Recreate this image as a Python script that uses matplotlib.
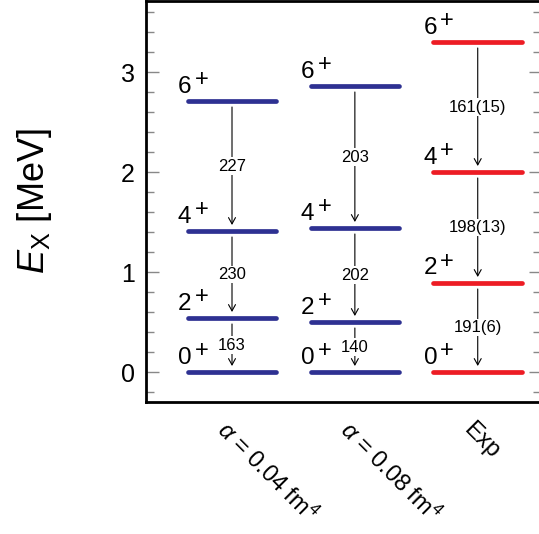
import matplotlib
matplotlib.use("Agg")
import matplotlib.pyplot as plt
from matplotlib.ticker import MultipleLocator

plt.rcParams['font.family'] = ['Liberation Sans', 'DejaVu Sans']
plt.rcParams['mathtext.fontset'] = 'custom'
plt.rcParams['mathtext.rm'] = 'Liberation Sans'
plt.rcParams['mathtext.it'] = 'Liberation Sans:italic'
plt.rcParams['mathtext.default'] = 'regular'

# level energies (MeV) for 0+, 2+, 4+, 6+
columns = [r"$\mathit{\alpha}$ = 0.04 fm$^4$", r"$\mathit{\alpha}$ = 0.08 fm$^4$", "Exp"]
spins = ["0", "2", "4", "6"]
levels_a004 = [0.0, 0.54, 1.41, 2.71]
levels_a008 = [0.0, 0.50, 1.44, 2.86]
levels_exp = [0.0, 0.89, 2.00, 3.30]
# B(E2) values for 2->0, 4->2, 6->4
be2_a004 = ["163", "230", "227"]
be2_a008 = ["140", "202", "203"]
be2_exp = ["191(6)", "198(13)", "161(15)"]

levels = [levels_a004, levels_a008, levels_exp]
be2 = [be2_a004, be2_a008, be2_exp]
colors = ["#2e3192", "#2e3192", "#ed1c24"]

W, H = 539, 534
fig = plt.figure(figsize=(W / 100, H / 100), dpi=100)
ax = fig.add_axes([146 / W, 132 / H, 395 / W, 401 / H])

half = 0.36
gap = 0.06
for i, (lv, lab, c) in enumerate(zip(levels, be2, colors)):
    for e, s in zip(lv, spins):
        ax.plot([i - half, i + half], [e, e], color=c, lw=3.4, solid_capstyle='round')
        ax.text(i - 0.44, e + 0.085, s, fontsize=17.5, ha='left', va='baseline')
        ax.annotate("+", (i - 0.44, e + 0.085), xytext=(12, 4.5), textcoords='offset points',
                    fontsize=17, ha='left', va='baseline')
    for k in range(3):
        hi, lo = lv[k + 1], lv[k]
        ax.annotate("", xy=(i, lo + gap), xytext=(i, hi - gap),
                    arrowprops=dict(arrowstyle='->,head_length=0.45,head_width=0.25',
                                    lw=0.8, color='k', shrinkA=0, shrinkB=0))
        ax.text(i, (hi + lo) / 2, lab[k], fontsize=12, ha='center', va='center',
                bbox=dict(facecolor='white', edgecolor='none', pad=1.0))

ax.set_xlim(-0.7, 2.515)
ax.set_ylim(-0.3, 3.71)
ax.yaxis.set_major_locator(MultipleLocator(1))
ax.yaxis.set_minor_locator(MultipleLocator(0.2))
ax.tick_params(axis='y', which='both', direction='in', right=True, color='#888888',
               labelsize=18, pad=8)
ax.tick_params(axis='y', which='major', length=9, width=1)
ax.tick_params(axis='y', which='minor', length=6, width=1)
ax.set_xticks([])
for sp in ax.spines.values():
    sp.set_linewidth(2)

ax.set_ylabel(r"$\mathit{E}_X$ [MeV]", fontsize=26, labelpad=48)

for i, name in enumerate(columns):
    ax.text(i - 0.09, -0.54, name, fontsize=17, rotation=-45, rotation_mode='anchor',
            ha='left', va='center')

fig.savefig("out.png", dpi=100)
